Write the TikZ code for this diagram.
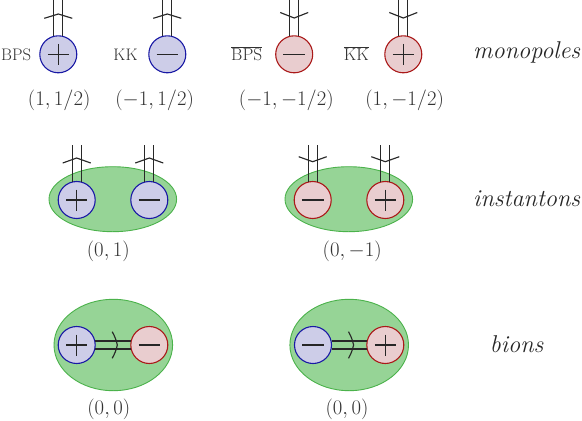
\documentclass[tikz,border=0pt]{standalone}
\usetikzlibrary{calc,shapes.geometric}
\definecolor{bfill}{RGB}{205,205,232}
\definecolor{bdraw}{RGB}{25,25,165}
\definecolor{rfill}{RGB}{233,205,207}
\definecolor{rdraw}{RGB}{170,25,25}
\definecolor{gfill}{RGB}{150,212,150}
\definecolor{gdraw}{RGB}{75,178,75}
\definecolor{wcol}{RGB}{40,40,40}
\definecolor{tcol}{RGB}{50,50,50}
\newcommand{\sgnplus}[1]{\draw[sign] ($(#1)+(-10.5,0)$) -- ($(#1)+(10.5,0)$) ($(#1)+(0,-10.5)$) -- ($(#1)+(0,10.5)$);}
\newcommand{\sgnminus}[1]{\draw[sign] ($(#1)+(-10.8,0)$) -- ($(#1)+(10.8,0)$);}
\begin{document}
\begin{tikzpicture}[x=1pt,y=-1pt,
  pole/.style={circle,minimum size=37pt,inner sep=0pt,line width=1.1pt},
  bpole/.style={pole,draw=bdraw,fill=bfill},
  rpole/.style={pole,draw=rdraw,fill=rfill},
  blob/.style={ellipse,draw=gdraw,fill=gfill,line width=0.9pt,inner sep=0pt},
  wire/.style={line width=1.15pt,draw=wcol},
  sign/.style={line width=1.15pt,draw=black!85},
  coordlab/.style={text=tcol,font=\fontsize{19.3}{23}\selectfont,inner sep=0pt},
  namelab/.style={text=tcol,font=\fontsize{16.7}{20}\selectfont,inner sep=0pt},
  kindlab/.style={text=black!85,font=\fontsize{24.3}{28}\selectfont\itshape,inner sep=0pt}]
\useasboundingbox (0,0) rectangle (582,421);
\coordinate (top) at (0,0);
\coordinate (itop) at (0,145);

% ---------- monopoles ----------
\node[bpole] (m1) at (58.3,54.3) {};
\node[bpole] (m2) at (167.3,54.3) {};
\node[rpole] (m3) at (294.2,54.3) {};
\node[rpole] (m4) at (403.3,54.3) {};
\sgnplus{m1}\sgnminus{m2}\sgnminus{m3}\sgnplus{m4}
\foreach \n in {m1,m2,m3,m4}{
  \draw[wire] (\n.104) -- (\n.104 |- top) (\n.76) -- (\n.76 |- top);
}
\foreach \n in {m1,m2}{
  \draw[wire] ($(\n)+(-14,-36)$) -- ($(\n)+(0,-40.3)$) -- ($(\n)+(14,-36)$);
}
\foreach \n in {m3,m4}{
  \draw[wire] ($(\n)+(-14,-41.8)$) -- ($(\n)+(0,-36.3)$) -- ($(\n)+(14,-41.8)$);
}
\node[namelab] (l1) at (16.2,54.3) {BPS};
\node[namelab] (l2) at (125.5,54.3) {KK};
\node[namelab] (l3) at (246.7,53.5) {$\overline{\mathrm{BPS}}$};
\node[namelab] (l4) at (356.3,53.5) {$\overline{\mathrm{KK}}$};
\node[coordlab] (c1) at (59.2,100.7) {$(1,1/2)$};
\node[coordlab] (c2) at (154.7,100.7) {$(-1,1/2)$};
\node[coordlab] (c3) at (286.3,100.7) {$(-1,-1/2)$};
\node[coordlab] (c4) at (404.7,100.7) {$(1,-1/2)$};
\node[kindlab] (k1) at (526.7,52.5) {monopoles};

% ---------- instantons ----------
\node[blob,minimum width=127.6pt,minimum height=65pt] (e1) at (112.8,199.2) {};
\node[blob,minimum width=127.6pt,minimum height=65pt] (e2) at (348.8,199.2) {};
\node[bpole] (i1) at (76.7,200) {};
\node[bpole] (i2) at (149.3,200) {};
\node[rpole] (i3) at (312.7,200) {};
\node[rpole] (i4) at (385.3,200) {};
\sgnplus{i1}\sgnminus{i2}\sgnminus{i3}\sgnplus{i4}
\foreach \n in {i1,i2,i3,i4}{
  \draw[wire] (\n.104) -- (\n.104 |- itop) (\n.76) -- (\n.76 |- itop);
}
\foreach \n in {i1,i2}{
  \draw[wire] ($(\n)+(-14,-37)$) -- ($(\n)+(0,-42)$) -- ($(\n)+(14,-37)$);
}
\foreach \n in {i3,i4}{
  \draw[wire] ($(\n)+(-14,-43.3)$) -- ($(\n)+(0,-38.3)$) -- ($(\n)+(14,-43.3)$);
}
\node[coordlab] (c5) at (108.3,251.7) {$(0,1)$};
\node[coordlab] (c6) at (352.2,251.7) {$(0,-1)$};
\node[kindlab] (k2) at (526.7,199) {instantons};

% ---------- bions ----------
\node[blob,minimum width=118.6pt,minimum height=91.4pt] (e3) at (113.3,345) {};
\node[blob,minimum width=118.6pt,minimum height=91.4pt] (e4) at (349.2,345) {};
\node[bpole] (b1) at (76.7,345) {};
\node[rpole] (b2) at (149.3,345) {};
\node[bpole] (b3) at (313,345) {};
\node[rpole] (b4) at (385.3,345) {};
\sgnplus{b1}\sgnminus{b2}\sgnminus{b3}\sgnplus{b4}
\draw[wire] (b1.12) -- (b2.168) (b1.-12) -- (b2.-168);
\draw[wire] (b3.12) -- (b4.168) (b3.-12) -- (b4.-168);
\foreach \n in {b1,b3}{
  \draw[wire] ($(\n)+(35.5,-13.3)$) to[bend left=8] ($(\n)+(40.6,0)$) to[bend left=8] ($(\n)+(35.5,13.3)$);
}
\node[coordlab] (c7) at (108.8,409) {$(0,0)$};
\node[coordlab] (c8) at (347,409) {$(0,0)$};
\node[kindlab] (k3) at (516.7,344) {bions};
\end{tikzpicture}
\end{document}
